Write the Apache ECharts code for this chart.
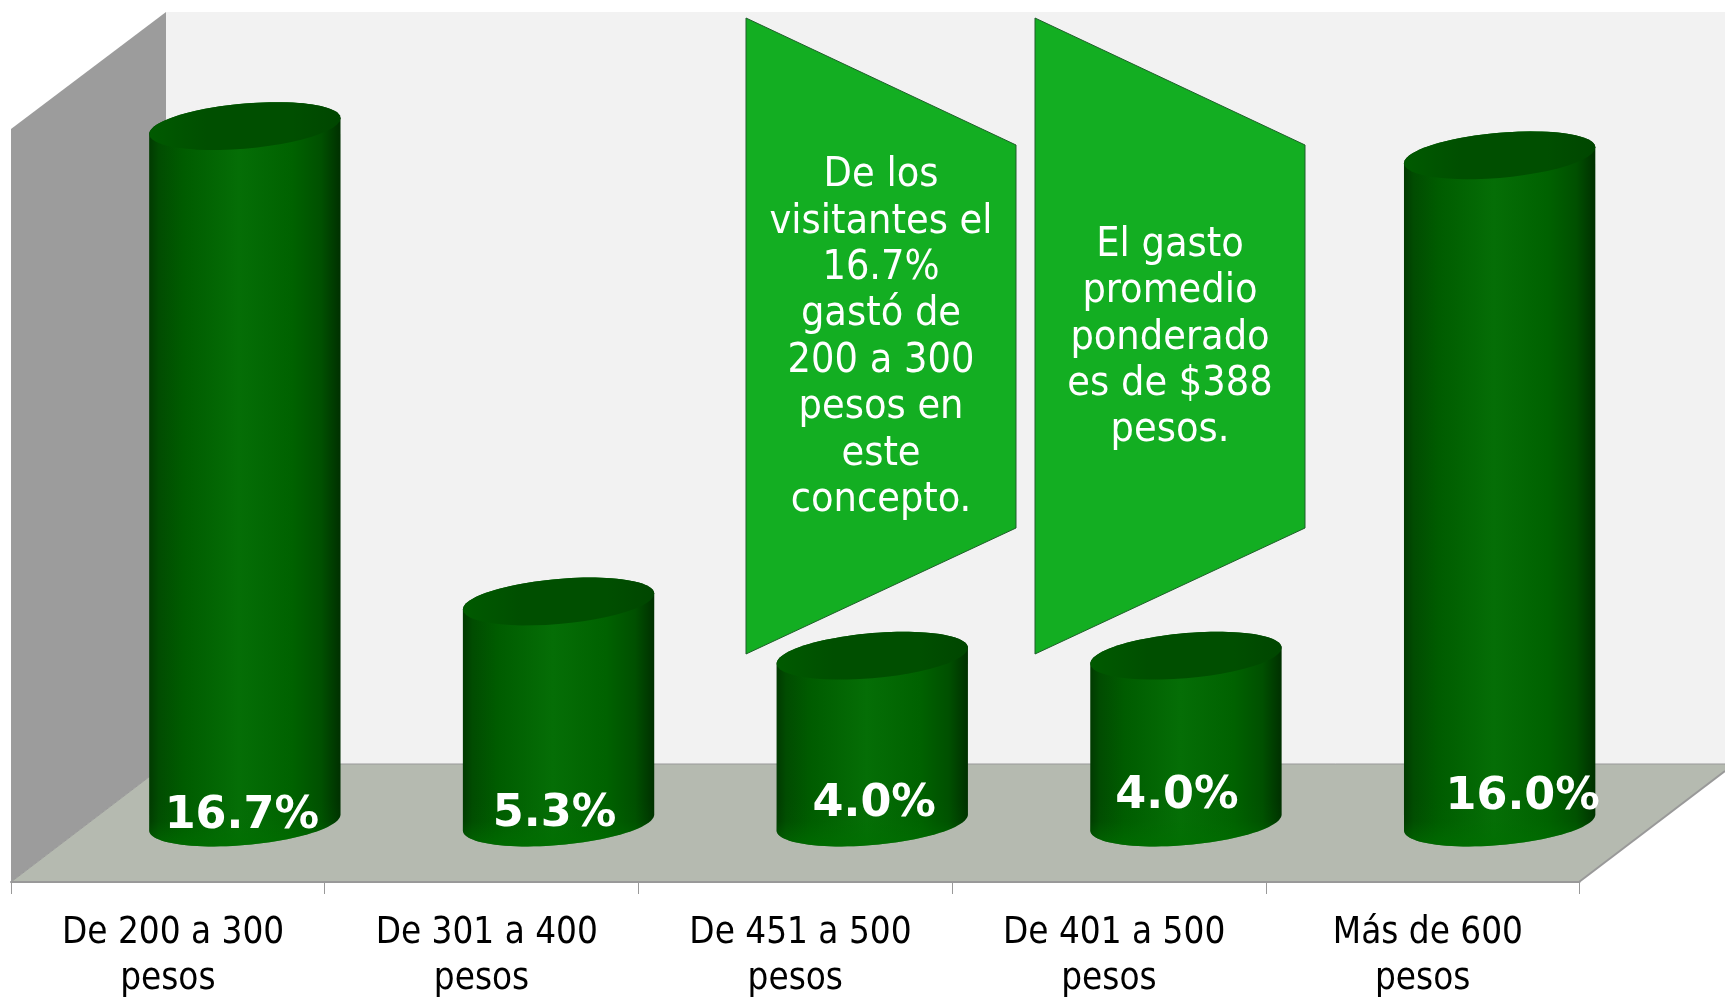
<!DOCTYPE html>
<html>
<head>
<meta charset="utf-8">
<style>html,body{margin:0;padding:0;background:#fff}#c{width:1725px;height:997px}</style>
<script src="https://cdn.jsdelivr.net/npm/echarts@6/dist/echarts.min.js"></script>
</head>
<body>
<div id="c"></div>
<script>
const categories = [' De 200 a 300\npesos', ' De 301 a 400\npesos', ' De 451 a 500\npesos', ' De 401 a 500\npesos', ' Más de 600\npesos'];
const shares = [16.7, 5.3, 4.0, 4.0, 16.0];
const noteOne = 'De los\nvisitantes el\n16.7%\ngastó de\n200 a 300\npesos en\neste\nconcepto.';
const noteTwo = 'El gasto\npromedio\nponderado\nes de $388\npesos.';

const labelFont = '"DejaVu Sans Condensed", "DejaVu Sans", sans-serif';
// Hand-placed data labels in the source: shift from each cylinder's base centre.
const labelNudge = [[-3, -6], [-4, -8], [2, -18], [-9, -26], [23, -25]];

const chart = echarts.init(document.getElementById('c'), null, {renderer: 'canvas'});

const bodyFill = {type: 'linear', x: 0, y: 0, x2: 1, y2: 0, colorStops: [
  {offset: 0, color: '#013a01'}, {offset: .05, color: '#014c01'}, {offset: .18, color: '#005c00'},
  {offset: .47, color: '#056e06'}, {offset: .75, color: '#006200'}, {offset: .9, color: '#005000'},
  {offset: 1, color: '#003000'}]};
const capFill = {type: 'linear', x: 0, y: 0, x2: 1, y2: 0, colorStops: [
  {offset: 0, color: '#005a00'}, {offset: .3, color: '#004f00'}, {offset: .75, color: '#004f00'},
  {offset: 1, color: '#004600'}]};
const glowFill = {type: 'linear', x: 0, y: 0, x2: 0, y2: 1, colorStops: [
  {offset: 0, color: 'rgba(0,112,0,0)'}, {offset: .45, color: 'rgba(0,112,0,0.08)'},
  {offset: 1, color: 'rgba(0,112,0,0.7)'}]};

function rim(cx, cy, a, lean, depth, from, to) {
  const pts = [];
  for (let i = 0; i <= 48; i++) {
    const t = from + (to - from) * i / 48;
    pts.push([cx + a * Math.cos(t), cy - lean * Math.cos(t) - depth * Math.sin(t)]);
  }
  return pts;
}

function renderCylinder(params, api) {
  const i = api.value(0);
  const top = api.coord([i, api.value(1)]);
  const base = api.coord([i, 0]);
  const band = api.size([1, 0])[0];
  const a = band * 0.305, lean = a * 0.083, depth = a * 0.236;
  const lower = rim(base[0], base[1], a, lean, depth, Math.PI * 2, Math.PI); // right to left through the front
  const upper = rim(top[0], top[1], a, lean, depth, Math.PI, 0);              // left to right through the back
  const cap = rim(top[0], top[1], a, lean, depth, 0, Math.PI * 2);
  const glowTop = base[1] - lean - depth * 0.6;
  const glow = lower.concat([[base[0] - a, glowTop], [base[0] + a, glowTop]]);
  const n = labelNudge[i];
  return {type: 'group', children: [
    {type: 'polygon', shape: {points: lower.concat(upper)}, style: {fill: bodyFill}},
    {type: 'polygon', shape: {points: glow}, style: {fill: glowFill}},
    {type: 'polygon', shape: {points: cap}, style: {fill: capFill}},
    {type: 'text', z2: 50, style: {text: api.value(1).toFixed(1) + '%', x: base[0] + n[0], y: base[1] + n[1],
      align: 'center', verticalAlign: 'middle', fill: '#fff',
      font: 'bold 44.5px "DejaVu Sans", sans-serif'}}
  ]};
}

function walls() {
  const side = [[11, 129], [166, 12], [166, 764], [11, 882]];
  const back = [[166, 12], [1725, 12], [1725, 764], [166, 764]];
  const floor = [[11, 882], [166, 764], [1725, 764], [1725, 771], [1579, 882]];
  const note1 = [[746, 18], [1016, 145], [1016, 528], [746, 654]];
  const note2 = [[1035, 18], [1305, 145], [1305, 528], [1035, 654]];
  const poly = (points, fill, stroke, z) => ({type: 'polygon', z, shape: {points},
    style: {fill, stroke: stroke || null, lineWidth: stroke ? 1 : 0}});
  const note = (text, x) => ({type: 'text', z: 4, x, y: 338, style: {text, align: 'center', verticalAlign: 'middle',
    fill: '#fff', font: '41px ' + labelFont, lineHeight: 46.4}});
  return [
    poly(back, '#f2f2f2', null, 0),
    poly(side, '#9c9c9c', null, 0),
    poly(floor, '#b5bab0', null, 0),
    {type: 'polyline', z: 1, shape: {points: [[166, 764], [1725, 764]]}, style: {stroke: '#999', lineWidth: 1, fill: null}},
    {type: 'polyline', z: 1, shape: {points: [[11, 882], [166, 764]]}, style: {stroke: '#999', lineWidth: 1, fill: null}},
    {type: 'polyline', z: 1, shape: {points: [[1579, 882], [1725, 771]]}, style: {stroke: '#999', lineWidth: 2, fill: null}},
    poly(note1, '#13ae22', '#1f5f2a', 3),
    poly(note2, '#13ae22', '#1f5f2a', 3),
    note(noteOne, 881),
    note(noteTwo, 1170)
  ];
}

chart.setOption({
  animation: false,
  backgroundColor: '#ffffff',
  graphic: {elements: walls()},
  grid: [
    {left: 11, width: 1568.5, top: 400, height: 482, outerBoundsMode: 'none'},
    {left: 88, width: 1568.5, top: 71.9, height: 750.6, outerBoundsMode: 'none'}
  ],
  xAxis: [
    {gridIndex: 0, type: 'category', data: categories, z: 6,
     axisLine: {show: true, lineStyle: {color: '#999', width: 2}},
     axisTick: {show: true, alignWithLabel: false, length: 12, lineStyle: {color: '#999', width: 1}},
     axisLabel: {show: true, interval: 0, color: '#000', margin: 29, fontSize: 36.5, lineHeight: 46, fontFamily: labelFont}},
    {gridIndex: 1, type: 'category', data: categories, show: false}
  ],
  yAxis: [
    {gridIndex: 0, type: 'value', min: 0, max: 18, show: false},
    {gridIndex: 1, type: 'value', min: 0, max: 18, show: false}
  ],
  series: [{
    type: 'custom', xAxisIndex: 1, yAxisIndex: 1, z: 5, clip: false,
    data: shares.map((v, i) => [i, v]),
    encode: {x: 0, y: 1},
    renderItem: renderCylinder
  }]
});
</script>
</body>
</html>
